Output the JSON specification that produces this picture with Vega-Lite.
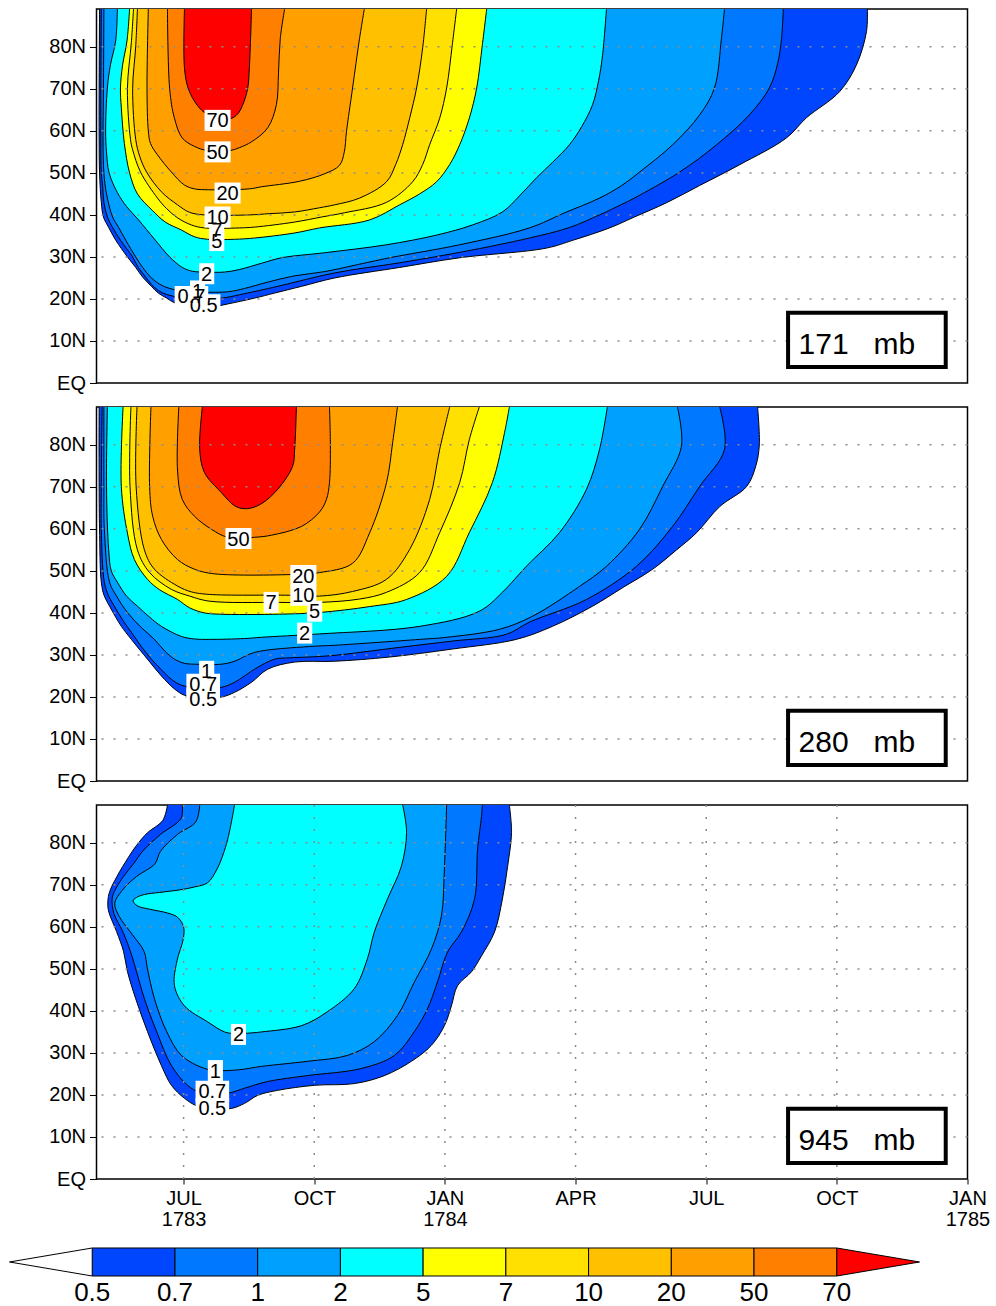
{
"$schema":"https://vega.github.io/schema/vega-lite/v6.json",
"background":"white",
"padding":{"left":6.5,"top":8,"right":5,"bottom":5},
"config":{
"view":{"stroke":"black","strokeWidth":1.5},
"axis":{"title":null,"domain":false,"grid":false,"labelFont":"Liberation Sans","labelFontSize":20,"labelColor":"black","tickColor":"black","tickSize":7,"labelPadding":4,"labelOverlap":false,"labelFlush":false},
"text":{"font":"Liberation Sans"}
},
"datasets":{
"contours":[
{"panel":"171 mb","level":0.5,"t":4.07,"lat":89},{"panel":"171 mb","level":0.5,"t":4.06,"lat":70},{"panel":"171 mb","level":0.5,"t":4.06,"lat":58},{"panel":"171 mb","level":0.5,"t":4.07,"lat":50},{"panel":"171 mb","level":0.5,"t":4.11,"lat":43},{"panel":"171 mb","level":0.5,"t":4.16,"lat":39.5},{"panel":"171 mb","level":0.5,"t":4.28,"lat":37},{"panel":"171 mb","level":0.5,"t":4.44,"lat":34},{"panel":"171 mb","level":0.5,"t":4.57,"lat":32},{"panel":"171 mb","level":0.5,"t":4.71,"lat":30},{"panel":"171 mb","level":0.5,"t":4.9,"lat":27.5},{"panel":"171 mb","level":0.5,"t":5.06,"lat":25.2},{"panel":"171 mb","level":0.5,"t":5.26,"lat":23},{"panel":"171 mb","level":0.5,"t":5.42,"lat":21.4},{"panel":"171 mb","level":0.5,"t":5.61,"lat":20.2},{"panel":"171 mb","level":0.5,"t":5.81,"lat":19},{"panel":"171 mb","level":0.5,"t":6.09,"lat":18.3},{"panel":"171 mb","level":0.5,"t":6.37,"lat":18.1},{"panel":"171 mb","level":0.5,"t":6.66,"lat":18.1},{"panel":"171 mb","level":0.5,"t":7.01,"lat":18.8},{"panel":"171 mb","level":0.5,"t":7.63,"lat":20.2},{"panel":"171 mb","level":0.5,"t":8.09,"lat":21.4},{"panel":"171 mb","level":0.5,"t":8.71,"lat":23},{"panel":"171 mb","level":0.5,"t":9.47,"lat":25},{"panel":"171 mb","level":0.5,"t":10.96,"lat":27.5},{"panel":"171 mb","level":0.5,"t":12.34,"lat":29.8},{"panel":"171 mb","level":0.5,"t":14.33,"lat":32.1},{"panel":"171 mb","level":0.5,"t":14.95,"lat":34},{"panel":"171 mb","level":0.5,"t":15.78,"lat":36.9},{"panel":"171 mb","level":0.5,"t":16.35,"lat":39.5},{"panel":"171 mb","level":0.5,"t":17.09,"lat":42.9},{"panel":"171 mb","level":0.5,"t":17.85,"lat":47},{"panel":"171 mb","level":0.5,"t":18.76,"lat":51.9},{"panel":"171 mb","level":0.5,"t":19.84,"lat":58.3},{"panel":"171 mb","level":0.5,"t":20.3,"lat":63.1},{"panel":"171 mb","level":0.5,"t":21.06,"lat":69.3},{"panel":"171 mb","level":0.5,"t":21.45,"lat":75.7},{"panel":"171 mb","level":0.5,"t":21.68,"lat":83.6},{"panel":"171 mb","level":0.5,"t":21.7,"lat":89},
{"panel":"171 mb","level":0.7,"t":4.11,"lat":89},{"panel":"171 mb","level":0.7,"t":4.1,"lat":70},{"panel":"171 mb","level":0.7,"t":4.1,"lat":60},{"panel":"171 mb","level":0.7,"t":4.11,"lat":50},{"panel":"171 mb","level":0.7,"t":4.14,"lat":47},{"panel":"171 mb","level":0.7,"t":4.17,"lat":43},{"panel":"171 mb","level":0.7,"t":4.25,"lat":39.5},{"panel":"171 mb","level":0.7,"t":4.37,"lat":37},{"panel":"171 mb","level":0.7,"t":4.55,"lat":34},{"panel":"171 mb","level":0.7,"t":4.69,"lat":32},{"panel":"171 mb","level":0.7,"t":4.83,"lat":30},{"panel":"171 mb","level":0.7,"t":4.96,"lat":27.5},{"panel":"171 mb","level":0.7,"t":5.13,"lat":25.2},{"panel":"171 mb","level":0.7,"t":5.26,"lat":23.5},{"panel":"171 mb","level":0.7,"t":5.42,"lat":22},{"panel":"171 mb","level":0.7,"t":5.63,"lat":21},{"panel":"171 mb","level":0.7,"t":5.91,"lat":20.4},{"panel":"171 mb","level":0.7,"t":6.25,"lat":20.2},{"panel":"171 mb","level":0.7,"t":6.87,"lat":20.2},{"panel":"171 mb","level":0.7,"t":7.28,"lat":21},{"panel":"171 mb","level":0.7,"t":8.16,"lat":23},{"panel":"171 mb","level":0.7,"t":9.47,"lat":26.2},{"panel":"171 mb","level":0.7,"t":10.96,"lat":28.6},{"panel":"171 mb","level":0.7,"t":12.4,"lat":31.2},{"panel":"171 mb","level":0.7,"t":13.94,"lat":34.5},{"panel":"171 mb","level":0.7,"t":14.86,"lat":37},{"panel":"171 mb","level":0.7,"t":15.55,"lat":40},{"panel":"171 mb","level":0.7,"t":16.06,"lat":42.5},{"panel":"171 mb","level":0.7,"t":16.35,"lat":44},{"panel":"171 mb","level":0.7,"t":17.39,"lat":50.2},{"panel":"171 mb","level":0.7,"t":18.24,"lat":56.7},{"panel":"171 mb","level":0.7,"t":18.99,"lat":63.8},{"panel":"171 mb","level":0.7,"t":19.45,"lat":70.2},{"panel":"171 mb","level":0.7,"t":19.64,"lat":76},{"panel":"171 mb","level":0.7,"t":19.73,"lat":82},{"panel":"171 mb","level":0.7,"t":19.77,"lat":89},
{"panel":"171 mb","level":1,"t":4.17,"lat":89},{"panel":"171 mb","level":1,"t":4.16,"lat":70},{"panel":"171 mb","level":1,"t":4.15,"lat":57.6},{"panel":"171 mb","level":1,"t":4.17,"lat":50},{"panel":"171 mb","level":1,"t":4.23,"lat":45},{"panel":"171 mb","level":1,"t":4.37,"lat":39.5},{"panel":"171 mb","level":1,"t":4.51,"lat":37},{"panel":"171 mb","level":1,"t":4.67,"lat":34},{"panel":"171 mb","level":1,"t":4.9,"lat":30},{"panel":"171 mb","level":1,"t":5.06,"lat":27.5},{"panel":"171 mb","level":1,"t":5.24,"lat":25.2},{"panel":"171 mb","level":1,"t":5.45,"lat":23.5},{"panel":"171 mb","level":1,"t":5.68,"lat":22.5},{"panel":"171 mb","level":1,"t":5.95,"lat":21.9},{"panel":"171 mb","level":1,"t":6.25,"lat":21.7},{"panel":"171 mb","level":1,"t":7.01,"lat":21.7},{"panel":"171 mb","level":1,"t":7.4,"lat":22.5},{"panel":"171 mb","level":1,"t":7.93,"lat":24},{"panel":"171 mb","level":1,"t":8.55,"lat":25.5},{"panel":"171 mb","level":1,"t":9.24,"lat":26.5},{"panel":"171 mb","level":1,"t":9.92,"lat":28},{"panel":"171 mb","level":1,"t":10.73,"lat":29.8},{"panel":"171 mb","level":1,"t":12.34,"lat":32.9},{"panel":"171 mb","level":1,"t":13.94,"lat":36.9},{"panel":"171 mb","level":1,"t":14.75,"lat":40.5},{"panel":"171 mb","level":1,"t":15.55,"lat":44},{"panel":"171 mb","level":1,"t":16.06,"lat":47},{"panel":"171 mb","level":1,"t":16.47,"lat":50.2},{"panel":"171 mb","level":1,"t":17.23,"lat":56.7},{"panel":"171 mb","level":1,"t":17.85,"lat":63.8},{"panel":"171 mb","level":1,"t":18.19,"lat":70.2},{"panel":"171 mb","level":1,"t":18.35,"lat":82},{"panel":"171 mb","level":1,"t":18.42,"lat":89},
{"panel":"171 mb","level":2,"t":4.48,"lat":89},{"panel":"171 mb","level":2,"t":4.44,"lat":81.4},{"panel":"171 mb","level":2,"t":4.32,"lat":75.7},{"panel":"171 mb","level":2,"t":4.25,"lat":70.2},{"panel":"171 mb","level":2,"t":4.21,"lat":60},{"panel":"171 mb","level":2,"t":4.23,"lat":55},{"panel":"171 mb","level":2,"t":4.29,"lat":50},{"panel":"171 mb","level":2,"t":4.48,"lat":45.3},{"panel":"171 mb","level":2,"t":4.69,"lat":42},{"panel":"171 mb","level":2,"t":4.95,"lat":39},{"panel":"171 mb","level":2,"t":5.15,"lat":36.5},{"panel":"171 mb","level":2,"t":5.35,"lat":34},{"panel":"171 mb","level":2,"t":5.68,"lat":30},{"panel":"171 mb","level":2,"t":5.97,"lat":27.5},{"panel":"171 mb","level":2,"t":6.2,"lat":26.6},{"panel":"171 mb","level":2,"t":6.48,"lat":26.4},{"panel":"171 mb","level":2,"t":6.94,"lat":26.4},{"panel":"171 mb","level":2,"t":7.28,"lat":27},{"panel":"171 mb","level":2,"t":7.79,"lat":28.5},{"panel":"171 mb","level":2,"t":8.25,"lat":29.8},{"panel":"171 mb","level":2,"t":9.24,"lat":31},{"panel":"171 mb","level":2,"t":10.66,"lat":32.9},{"panel":"171 mb","level":2,"t":11.81,"lat":35.2},{"panel":"171 mb","level":2,"t":12.63,"lat":37.6},{"panel":"171 mb","level":2,"t":13.32,"lat":40.7},{"panel":"171 mb","level":2,"t":13.71,"lat":44.5},{"panel":"171 mb","level":2,"t":14.1,"lat":48.8},{"panel":"171 mb","level":2,"t":14.47,"lat":52.5},{"panel":"171 mb","level":2,"t":14.86,"lat":56.7},{"panel":"171 mb","level":2,"t":15.14,"lat":61},{"panel":"171 mb","level":2,"t":15.39,"lat":66.2},{"panel":"171 mb","level":2,"t":15.53,"lat":72},{"panel":"171 mb","level":2,"t":15.62,"lat":78},{"panel":"171 mb","level":2,"t":15.71,"lat":89},
{"panel":"171 mb","level":5,"t":4.76,"lat":89},{"panel":"171 mb","level":5,"t":4.7,"lat":81.4},{"panel":"171 mb","level":5,"t":4.6,"lat":75.7},{"panel":"171 mb","level":5,"t":4.55,"lat":70.2},{"panel":"171 mb","level":5,"t":4.57,"lat":65.5},{"panel":"171 mb","level":5,"t":4.64,"lat":57},{"panel":"171 mb","level":5,"t":4.76,"lat":50},{"panel":"171 mb","level":5,"t":4.94,"lat":45},{"panel":"171 mb","level":5,"t":5.29,"lat":41},{"panel":"171 mb","level":5,"t":5.58,"lat":38.3},{"panel":"171 mb","level":5,"t":5.95,"lat":36.4},{"panel":"171 mb","level":5,"t":6.25,"lat":34.8},{"panel":"171 mb","level":5,"t":6.55,"lat":34.2},{"panel":"171 mb","level":5,"t":7.17,"lat":34.2},{"panel":"171 mb","level":5,"t":7.63,"lat":34.5},{"panel":"171 mb","level":5,"t":8.55,"lat":35.7},{"panel":"171 mb","level":5,"t":9.12,"lat":36.9},{"panel":"171 mb","level":5,"t":10.27,"lat":38.8},{"panel":"171 mb","level":5,"t":10.96,"lat":42.4},{"panel":"171 mb","level":5,"t":11.42,"lat":45},{"panel":"171 mb","level":5,"t":11.81,"lat":47.9},{"panel":"171 mb","level":5,"t":12.11,"lat":52},{"panel":"171 mb","level":5,"t":12.34,"lat":56.7},{"panel":"171 mb","level":5,"t":12.56,"lat":63},{"panel":"171 mb","level":5,"t":12.73,"lat":70.2},{"panel":"171 mb","level":5,"t":12.86,"lat":80.5},{"panel":"171 mb","level":5,"t":12.96,"lat":89},
{"panel":"171 mb","level":7,"t":4.85,"lat":89},{"panel":"171 mb","level":7,"t":4.8,"lat":81},{"panel":"171 mb","level":7,"t":4.71,"lat":70},{"panel":"171 mb","level":7,"t":4.78,"lat":58},{"panel":"171 mb","level":7,"t":4.83,"lat":55.5},{"panel":"171 mb","level":7,"t":5.01,"lat":50.2},{"panel":"171 mb","level":7,"t":5.4,"lat":44},{"panel":"171 mb","level":7,"t":5.61,"lat":41.5},{"panel":"171 mb","level":7,"t":5.86,"lat":39.3},{"panel":"171 mb","level":7,"t":6.18,"lat":37.6},{"panel":"171 mb","level":7,"t":6.48,"lat":36.9},{"panel":"171 mb","level":7,"t":7.28,"lat":36.9},{"panel":"171 mb","level":7,"t":7.63,"lat":37.1},{"panel":"171 mb","level":7,"t":8.55,"lat":38.3},{"panel":"171 mb","level":7,"t":9.17,"lat":39.5},{"panel":"171 mb","level":7,"t":9.69,"lat":40.5},{"panel":"171 mb","level":7,"t":10.66,"lat":43},{"panel":"171 mb","level":7,"t":11.26,"lat":47.9},{"panel":"171 mb","level":7,"t":11.49,"lat":52},{"panel":"171 mb","level":7,"t":11.65,"lat":56.7},{"panel":"171 mb","level":7,"t":11.88,"lat":63},{"panel":"171 mb","level":7,"t":12.04,"lat":70.2},{"panel":"171 mb","level":7,"t":12.17,"lat":80.5},{"panel":"171 mb","level":7,"t":12.27,"lat":89},
{"panel":"171 mb","level":10,"t":4.94,"lat":89},{"panel":"171 mb","level":10,"t":4.9,"lat":80},{"panel":"171 mb","level":10,"t":4.83,"lat":70},{"panel":"171 mb","level":10,"t":4.9,"lat":58},{"panel":"171 mb","level":10,"t":4.99,"lat":54},{"panel":"171 mb","level":10,"t":5.15,"lat":50.2},{"panel":"171 mb","level":10,"t":5.49,"lat":45.5},{"panel":"171 mb","level":10,"t":5.86,"lat":42.4},{"panel":"171 mb","level":10,"t":6.14,"lat":40.6},{"panel":"171 mb","level":10,"t":6.48,"lat":40},{"panel":"171 mb","level":10,"t":7.51,"lat":40},{"panel":"171 mb","level":10,"t":7.97,"lat":40.3},{"panel":"171 mb","level":10,"t":8.55,"lat":40.7},{"panel":"171 mb","level":10,"t":9.12,"lat":41.7},{"panel":"171 mb","level":10,"t":9.47,"lat":42.4},{"panel":"171 mb","level":10,"t":10.04,"lat":44},{"panel":"171 mb","level":10,"t":10.66,"lat":47.9},{"panel":"171 mb","level":10,"t":10.87,"lat":52},{"panel":"171 mb","level":10,"t":11.03,"lat":56.7},{"panel":"171 mb","level":10,"t":11.19,"lat":63},{"panel":"171 mb","level":10,"t":11.35,"lat":70.2},{"panel":"171 mb","level":10,"t":11.49,"lat":79.8},{"panel":"171 mb","level":10,"t":11.58,"lat":89},
{"panel":"171 mb","level":20,"t":5.19,"lat":89},{"panel":"171 mb","level":20,"t":5.16,"lat":70},{"panel":"171 mb","level":20,"t":5.19,"lat":60},{"panel":"171 mb","level":20,"t":5.24,"lat":57},{"panel":"171 mb","level":20,"t":5.4,"lat":54.3},{"panel":"171 mb","level":20,"t":5.72,"lat":50.2},{"panel":"171 mb","level":20,"t":6.02,"lat":47.1},{"panel":"171 mb","level":20,"t":6.25,"lat":46.2},{"panel":"171 mb","level":20,"t":6.48,"lat":46},{"panel":"171 mb","level":20,"t":7.51,"lat":46.2},{"panel":"171 mb","level":20,"t":7.79,"lat":46.7},{"panel":"171 mb","level":20,"t":8.66,"lat":48},{"panel":"171 mb","level":20,"t":9.24,"lat":49.8},{"panel":"171 mb","level":20,"t":9.58,"lat":51.8},{"panel":"171 mb","level":20,"t":9.69,"lat":55},{"panel":"171 mb","level":20,"t":9.74,"lat":59.8},{"panel":"171 mb","level":20,"t":9.88,"lat":70.2},{"panel":"171 mb","level":20,"t":10.04,"lat":82},{"panel":"171 mb","level":20,"t":10.15,"lat":89},
{"panel":"171 mb","level":50,"t":5.63,"lat":89},{"panel":"171 mb","level":50,"t":5.68,"lat":70},{"panel":"171 mb","level":50,"t":5.79,"lat":63},{"panel":"171 mb","level":50,"t":5.97,"lat":58.3},{"panel":"171 mb","level":50,"t":6.25,"lat":56.3},{"panel":"171 mb","level":50,"t":6.55,"lat":55.3},{"panel":"171 mb","level":50,"t":7.05,"lat":55.3},{"panel":"171 mb","level":50,"t":7.28,"lat":56},{"panel":"171 mb","level":50,"t":7.56,"lat":57.4},{"panel":"171 mb","level":50,"t":7.93,"lat":60.7},{"panel":"171 mb","level":50,"t":8.13,"lat":66.2},{"panel":"171 mb","level":50,"t":8.18,"lat":74},{"panel":"171 mb","level":50,"t":8.22,"lat":82},{"panel":"171 mb","level":50,"t":8.32,"lat":89},
{"panel":"171 mb","level":70,"t":6.02,"lat":89},{"panel":"171 mb","level":70,"t":6.02,"lat":75},{"panel":"171 mb","level":70,"t":6.11,"lat":70},{"panel":"171 mb","level":70,"t":6.32,"lat":66},{"panel":"171 mb","level":70,"t":6.53,"lat":64},{"panel":"171 mb","level":70,"t":6.78,"lat":63},{"panel":"171 mb","level":70,"t":7.1,"lat":63},{"panel":"171 mb","level":70,"t":7.24,"lat":64},{"panel":"171 mb","level":70,"t":7.35,"lat":66},{"panel":"171 mb","level":70,"t":7.47,"lat":70},{"panel":"171 mb","level":70,"t":7.51,"lat":75},{"panel":"171 mb","level":70,"t":7.56,"lat":89},
{"panel":"280 mb","level":0.5,"t":4.06,"lat":89},{"panel":"280 mb","level":0.5,"t":4.06,"lat":70},{"panel":"280 mb","level":0.5,"t":4.07,"lat":60},{"panel":"280 mb","level":0.5,"t":4.11,"lat":47.3},{"panel":"280 mb","level":0.5,"t":4.18,"lat":44},{"panel":"280 mb","level":0.5,"t":4.3,"lat":41.6},{"panel":"280 mb","level":0.5,"t":4.44,"lat":39},{"panel":"280 mb","level":0.5,"t":4.57,"lat":36.8},{"panel":"280 mb","level":0.5,"t":4.8,"lat":33.7},{"panel":"280 mb","level":0.5,"t":5.17,"lat":29},{"panel":"280 mb","level":0.5,"t":5.49,"lat":25},{"panel":"280 mb","level":0.5,"t":5.79,"lat":21.9},{"panel":"280 mb","level":0.5,"t":6.02,"lat":20.4},{"panel":"280 mb","level":0.5,"t":6.25,"lat":20},{"panel":"280 mb","level":0.5,"t":6.87,"lat":20},{"panel":"280 mb","level":0.5,"t":7.17,"lat":21.1},{"panel":"280 mb","level":0.5,"t":7.56,"lat":23.5},{"panel":"280 mb","level":0.5,"t":7.93,"lat":26.6},{"panel":"280 mb","level":0.5,"t":8.55,"lat":28.3},{"panel":"280 mb","level":0.5,"t":9.47,"lat":28.5},{"panel":"280 mb","level":0.5,"t":10.73,"lat":29.5},{"panel":"280 mb","level":0.5,"t":12.17,"lat":31.4},{"panel":"280 mb","level":0.5,"t":13.64,"lat":33.7},{"panel":"280 mb","level":0.5,"t":14.47,"lat":36.8},{"panel":"280 mb","level":0.5,"t":15.39,"lat":41.6},{"panel":"280 mb","level":0.5,"t":16.08,"lat":46},{"panel":"280 mb","level":0.5,"t":16.77,"lat":50.4},{"panel":"280 mb","level":0.5,"t":17.32,"lat":55},{"panel":"280 mb","level":0.5,"t":17.78,"lat":59.1},{"panel":"280 mb","level":0.5,"t":18.31,"lat":65.3},{"panel":"280 mb","level":0.5,"t":18.93,"lat":70.1},{"panel":"280 mb","level":0.5,"t":19.14,"lat":75},{"panel":"280 mb","level":0.5,"t":19.22,"lat":80},{"panel":"280 mb","level":0.5,"t":19.18,"lat":89},
{"panel":"280 mb","level":0.7,"t":4.13,"lat":89},{"panel":"280 mb","level":0.7,"t":4.11,"lat":70},{"panel":"280 mb","level":0.7,"t":4.11,"lat":60},{"panel":"280 mb","level":0.7,"t":4.18,"lat":47.3},{"panel":"280 mb","level":0.7,"t":4.28,"lat":44},{"panel":"280 mb","level":0.7,"t":4.41,"lat":41.6},{"panel":"280 mb","level":0.7,"t":4.62,"lat":38},{"panel":"280 mb","level":0.7,"t":4.8,"lat":35.4},{"panel":"280 mb","level":0.7,"t":5.03,"lat":32},{"panel":"280 mb","level":0.7,"t":5.26,"lat":29},{"panel":"280 mb","level":0.7,"t":5.49,"lat":26.5},{"panel":"280 mb","level":0.7,"t":5.72,"lat":24.2},{"panel":"280 mb","level":0.7,"t":5.95,"lat":22.8},{"panel":"280 mb","level":0.7,"t":6.25,"lat":22.3},{"panel":"280 mb","level":0.7,"t":6.87,"lat":22.3},{"panel":"280 mb","level":0.7,"t":7.17,"lat":23.5},{"panel":"280 mb","level":0.7,"t":7.4,"lat":25},{"panel":"280 mb","level":0.7,"t":7.63,"lat":26.6},{"panel":"280 mb","level":0.7,"t":8.09,"lat":29},{"panel":"280 mb","level":0.7,"t":8.43,"lat":29.3},{"panel":"280 mb","level":0.7,"t":9.35,"lat":29.8},{"panel":"280 mb","level":0.7,"t":10.96,"lat":31.8},{"panel":"280 mb","level":0.7,"t":12.17,"lat":33.3},{"panel":"280 mb","level":0.7,"t":13.41,"lat":34.9},{"panel":"280 mb","level":0.7,"t":13.94,"lat":37.8},{"panel":"280 mb","level":0.7,"t":15.25,"lat":43.2},{"panel":"280 mb","level":0.7,"t":16.4,"lat":51.1},{"panel":"280 mb","level":0.7,"t":17.23,"lat":60.6},{"panel":"280 mb","level":0.7,"t":17.85,"lat":70.1},{"panel":"280 mb","level":0.7,"t":18.42,"lat":78.9},{"panel":"280 mb","level":0.7,"t":18.31,"lat":89},
{"panel":"280 mb","level":1,"t":4.17,"lat":89},{"panel":"280 mb","level":1,"t":4.17,"lat":70},{"panel":"280 mb","level":1,"t":4.18,"lat":60},{"panel":"280 mb","level":1,"t":4.3,"lat":47.3},{"panel":"280 mb","level":1,"t":4.46,"lat":44},{"panel":"280 mb","level":1,"t":4.71,"lat":40.1},{"panel":"280 mb","level":1,"t":5.03,"lat":36.5},{"panel":"280 mb","level":1,"t":5.33,"lat":33.7},{"panel":"280 mb","level":1,"t":5.56,"lat":31},{"panel":"280 mb","level":1,"t":5.79,"lat":29},{"panel":"280 mb","level":1,"t":6.02,"lat":28},{"panel":"280 mb","level":1,"t":6.25,"lat":27.8},{"panel":"280 mb","level":1,"t":6.87,"lat":27.8},{"panel":"280 mb","level":1,"t":7.17,"lat":28.5},{"panel":"280 mb","level":1,"t":7.63,"lat":30.6},{"panel":"280 mb","level":1,"t":8.89,"lat":32},{"panel":"280 mb","level":1,"t":9.47,"lat":32.3},{"panel":"280 mb","level":1,"t":11.42,"lat":33.7},{"panel":"280 mb","level":1,"t":12.04,"lat":34.2},{"panel":"280 mb","level":1,"t":13.25,"lat":36.1},{"panel":"280 mb","level":1,"t":14.01,"lat":39.2},{"panel":"280 mb","level":1,"t":15.09,"lat":46.3},{"panel":"280 mb","level":1,"t":15.71,"lat":51.1},{"panel":"280 mb","level":1,"t":16.47,"lat":59.9},{"panel":"280 mb","level":1,"t":17,"lat":70.1},{"panel":"280 mb","level":1,"t":17.43,"lat":79.6},{"panel":"280 mb","level":1,"t":17.34,"lat":89},
{"panel":"280 mb","level":2,"t":4.25,"lat":89},{"panel":"280 mb","level":2,"t":4.23,"lat":70},{"panel":"280 mb","level":2,"t":4.28,"lat":55},{"panel":"280 mb","level":2,"t":4.34,"lat":50},{"panel":"280 mb","level":2,"t":4.48,"lat":47.3},{"panel":"280 mb","level":2,"t":4.69,"lat":44},{"panel":"280 mb","level":2,"t":4.94,"lat":41.6},{"panel":"280 mb","level":2,"t":5.22,"lat":39},{"panel":"280 mb","level":2,"t":5.49,"lat":36.8},{"panel":"280 mb","level":2,"t":5.95,"lat":34.4},{"panel":"280 mb","level":2,"t":6.25,"lat":33.8},{"panel":"280 mb","level":2,"t":6.59,"lat":33.7},{"panel":"280 mb","level":2,"t":7.4,"lat":33.9},{"panel":"280 mb","level":2,"t":7.79,"lat":34.2},{"panel":"280 mb","level":2,"t":9.12,"lat":35},{"panel":"280 mb","level":2,"t":11.42,"lat":36.8},{"panel":"280 mb","level":2,"t":12.79,"lat":40.4},{"panel":"280 mb","level":2,"t":13.32,"lat":44.9},{"panel":"280 mb","level":2,"t":13.87,"lat":51.1},{"panel":"280 mb","level":2,"t":14.63,"lat":59.1},{"panel":"280 mb","level":2,"t":15.25,"lat":69.4},{"panel":"280 mb","level":2,"t":15.55,"lat":78.9},{"panel":"280 mb","level":2,"t":15.73,"lat":89},
{"panel":"280 mb","level":5,"t":4.61,"lat":89},{"panel":"280 mb","level":5,"t":4.57,"lat":70},{"panel":"280 mb","level":5,"t":4.71,"lat":59},{"panel":"280 mb","level":5,"t":4.87,"lat":52.7},{"panel":"280 mb","level":5,"t":5.17,"lat":48},{"panel":"280 mb","level":5,"t":5.45,"lat":45.5},{"panel":"280 mb","level":5,"t":5.86,"lat":43.2},{"panel":"280 mb","level":5,"t":6.14,"lat":41.2},{"panel":"280 mb","level":5,"t":6.48,"lat":40},{"panel":"280 mb","level":5,"t":6.82,"lat":39.7},{"panel":"280 mb","level":5,"t":8.2,"lat":39.7},{"panel":"280 mb","level":5,"t":9.12,"lat":40.1},{"panel":"280 mb","level":5,"t":10.27,"lat":41.5},{"panel":"280 mb","level":5,"t":11.12,"lat":43.2},{"panel":"280 mb","level":5,"t":12.04,"lat":48.7},{"panel":"280 mb","level":5,"t":12.56,"lat":59.1},{"panel":"280 mb","level":5,"t":13.09,"lat":71},{"panel":"280 mb","level":5,"t":13.37,"lat":82.9},{"panel":"280 mb","level":5,"t":13.48,"lat":89},
{"panel":"280 mb","level":7,"t":4.79,"lat":89},{"panel":"280 mb","level":7,"t":4.77,"lat":70},{"panel":"280 mb","level":7,"t":4.94,"lat":55},{"panel":"280 mb","level":7,"t":5.22,"lat":49.6},{"panel":"280 mb","level":7,"t":5.72,"lat":45.6},{"panel":"280 mb","level":7,"t":6.14,"lat":44},{"panel":"280 mb","level":7,"t":6.59,"lat":42.8},{"panel":"280 mb","level":7,"t":8.2,"lat":42.5},{"panel":"280 mb","level":7,"t":9.12,"lat":42.5},{"panel":"280 mb","level":7,"t":10.04,"lat":43.3},{"panel":"280 mb","level":7,"t":10.66,"lat":44.9},{"panel":"280 mb","level":7,"t":11.42,"lat":49.6},{"panel":"280 mb","level":7,"t":11.88,"lat":59.1},{"panel":"280 mb","level":7,"t":12.34,"lat":71},{"panel":"280 mb","level":7,"t":12.56,"lat":81.2},{"panel":"280 mb","level":7,"t":12.79,"lat":89},
{"panel":"280 mb","level":10,"t":4.93,"lat":89},{"panel":"280 mb","level":10,"t":4.91,"lat":70},{"panel":"280 mb","level":10,"t":5.1,"lat":55},{"panel":"280 mb","level":10,"t":5.33,"lat":50.4},{"panel":"280 mb","level":10,"t":5.86,"lat":46.4},{"panel":"280 mb","level":10,"t":6.18,"lat":45},{"panel":"280 mb","level":10,"t":6.59,"lat":44.4},{"panel":"280 mb","level":10,"t":8.43,"lat":44.2},{"panel":"280 mb","level":10,"t":9.12,"lat":44},{"panel":"280 mb","level":10,"t":9.88,"lat":45.1},{"panel":"280 mb","level":10,"t":10.66,"lat":48},{"panel":"280 mb","level":10,"t":11.19,"lat":55.1},{"panel":"280 mb","level":10,"t":11.65,"lat":67},{"panel":"280 mb","level":10,"t":11.88,"lat":78.9},{"panel":"280 mb","level":10,"t":12.11,"lat":89},
{"panel":"280 mb","level":20,"t":5.25,"lat":89},{"panel":"280 mb","level":20,"t":5.22,"lat":70},{"panel":"280 mb","level":20,"t":5.29,"lat":63},{"panel":"280 mb","level":20,"t":5.49,"lat":57.5},{"panel":"280 mb","level":20,"t":5.86,"lat":52.7},{"panel":"280 mb","level":20,"t":6.25,"lat":50.4},{"panel":"280 mb","level":20,"t":6.71,"lat":49.3},{"panel":"280 mb","level":20,"t":8.66,"lat":49.2},{"panel":"280 mb","level":20,"t":9.12,"lat":49.6},{"panel":"280 mb","level":20,"t":9.88,"lat":51.8},{"panel":"280 mb","level":20,"t":10.27,"lat":59},{"panel":"280 mb","level":20,"t":10.66,"lat":71},{"panel":"280 mb","level":20,"t":10.8,"lat":80.5},{"panel":"280 mb","level":20,"t":10.91,"lat":89},
{"panel":"280 mb","level":50,"t":5.89,"lat":89},{"panel":"280 mb","level":50,"t":5.86,"lat":74},{"panel":"280 mb","level":50,"t":5.97,"lat":67},{"panel":"280 mb","level":50,"t":6.25,"lat":63},{"panel":"280 mb","level":50,"t":6.64,"lat":59.9},{"panel":"280 mb","level":50,"t":7.01,"lat":58},{"panel":"280 mb","level":50,"t":7.63,"lat":58},{"panel":"280 mb","level":50,"t":8.02,"lat":58.5},{"panel":"280 mb","level":50,"t":8.71,"lat":60.6},{"panel":"280 mb","level":50,"t":9.12,"lat":64},{"panel":"280 mb","level":50,"t":9.28,"lat":67},{"panel":"280 mb","level":50,"t":9.35,"lat":71},{"panel":"280 mb","level":50,"t":9.37,"lat":80},{"panel":"280 mb","level":50,"t":9.35,"lat":89},
{"panel":"280 mb","level":70,"t":6.43,"lat":89},{"panel":"280 mb","level":70,"t":6.37,"lat":78.9},{"panel":"280 mb","level":70,"t":6.48,"lat":73.4},{"panel":"280 mb","level":70,"t":6.87,"lat":68.6},{"panel":"280 mb","level":70,"t":7.17,"lat":65.5},{"panel":"280 mb","level":70,"t":7.4,"lat":64.8},{"panel":"280 mb","level":70,"t":7.7,"lat":65.5},{"panel":"280 mb","level":70,"t":8.09,"lat":68.6},{"panel":"280 mb","level":70,"t":8.5,"lat":74.8},{"panel":"280 mb","level":70,"t":8.55,"lat":78.9},{"panel":"280 mb","level":70,"t":8.59,"lat":89},
{"panel":"945 mb","level":0.5,"t":5.63,"lat":89},{"panel":"945 mb","level":0.5,"t":5.52,"lat":85.3},{"panel":"945 mb","level":0.5,"t":5.17,"lat":82.4},{"panel":"945 mb","level":0.5,"t":4.92,"lat":79.4},{"panel":"945 mb","level":0.5,"t":4.73,"lat":76.5},{"panel":"945 mb","level":0.5,"t":4.47,"lat":72},{"panel":"945 mb","level":0.5,"t":4.29,"lat":68},{"panel":"945 mb","level":0.5,"t":4.26,"lat":65},{"panel":"945 mb","level":0.5,"t":4.29,"lat":63.3},{"panel":"945 mb","level":0.5,"t":4.46,"lat":58.9},{"panel":"945 mb","level":0.5,"t":4.62,"lat":54.2},{"panel":"945 mb","level":0.5,"t":4.71,"lat":49.4},{"panel":"945 mb","level":0.5,"t":4.9,"lat":42.9},{"panel":"945 mb","level":0.5,"t":5.17,"lat":35.1},{"panel":"945 mb","level":0.5,"t":5.49,"lat":27},{"panel":"945 mb","level":0.5,"t":5.72,"lat":22.3},{"panel":"945 mb","level":0.5,"t":6.02,"lat":19.2},{"panel":"945 mb","level":0.5,"t":6.32,"lat":17.3},{"panel":"945 mb","level":0.5,"t":6.59,"lat":16.8},{"panel":"945 mb","level":0.5,"t":7.1,"lat":16.8},{"panel":"945 mb","level":0.5,"t":7.4,"lat":18},{"panel":"945 mb","level":0.5,"t":7.7,"lat":19.9},{"panel":"945 mb","level":0.5,"t":8.16,"lat":21.1},{"panel":"945 mb","level":0.5,"t":9.01,"lat":22.3},{"panel":"945 mb","level":0.5,"t":9.92,"lat":22.7},{"panel":"945 mb","level":0.5,"t":10.61,"lat":24.6},{"panel":"945 mb","level":0.5,"t":11.23,"lat":28},{"panel":"945 mb","level":0.5,"t":11.69,"lat":31.8},{"panel":"945 mb","level":0.5,"t":11.99,"lat":36.5},{"panel":"945 mb","level":0.5,"t":12.15,"lat":41.2},{"panel":"945 mb","level":0.5,"t":12.29,"lat":46},{"panel":"945 mb","level":0.5,"t":12.61,"lat":49.3},{"panel":"945 mb","level":0.5,"t":12.84,"lat":53.1},{"panel":"945 mb","level":0.5,"t":13.14,"lat":58.8},{"panel":"945 mb","level":0.5,"t":13.32,"lat":66.6},{"panel":"945 mb","level":0.5,"t":13.44,"lat":74.4},{"panel":"945 mb","level":0.5,"t":13.53,"lat":82.5},{"panel":"945 mb","level":0.5,"t":13.48,"lat":89},
{"panel":"945 mb","level":0.7,"t":5.97,"lat":89},{"panel":"945 mb","level":0.7,"t":5.94,"lat":85.8},{"panel":"945 mb","level":0.7,"t":5.47,"lat":82},{"panel":"945 mb","level":0.7,"t":5.06,"lat":78},{"panel":"945 mb","level":0.7,"t":4.85,"lat":75},{"panel":"945 mb","level":0.7,"t":4.62,"lat":72},{"panel":"945 mb","level":0.7,"t":4.44,"lat":69},{"panel":"945 mb","level":0.7,"t":4.36,"lat":66.8},{"panel":"945 mb","level":0.7,"t":4.4,"lat":63.2},{"panel":"945 mb","level":0.7,"t":4.62,"lat":58.5},{"panel":"945 mb","level":0.7,"t":4.8,"lat":53.5},{"panel":"945 mb","level":0.7,"t":4.92,"lat":49.3},{"panel":"945 mb","level":0.7,"t":5.1,"lat":42.9},{"panel":"945 mb","level":0.7,"t":5.38,"lat":35.1},{"panel":"945 mb","level":0.7,"t":5.72,"lat":27},{"panel":"945 mb","level":0.7,"t":6.09,"lat":22.3},{"panel":"945 mb","level":0.7,"t":6.37,"lat":20.6},{"panel":"945 mb","level":0.7,"t":6.59,"lat":20.4},{"panel":"945 mb","level":0.7,"t":7.01,"lat":20.4},{"panel":"945 mb","level":0.7,"t":7.4,"lat":21.6},{"panel":"945 mb","level":0.7,"t":7.93,"lat":23.2},{"panel":"945 mb","level":0.7,"t":8.84,"lat":24.6},{"panel":"945 mb","level":0.7,"t":10.08,"lat":26.3},{"panel":"945 mb","level":0.7,"t":10.84,"lat":29.4},{"panel":"945 mb","level":0.7,"t":11.3,"lat":35.1},{"panel":"945 mb","level":0.7,"t":11.6,"lat":40.5},{"panel":"945 mb","level":0.7,"t":11.83,"lat":46.9},{"panel":"945 mb","level":0.7,"t":12.06,"lat":54},{"panel":"945 mb","level":0.7,"t":12.38,"lat":58.8},{"panel":"945 mb","level":0.7,"t":12.68,"lat":66.6},{"panel":"945 mb","level":0.7,"t":12.75,"lat":78.4},{"panel":"945 mb","level":0.7,"t":12.84,"lat":86.3},{"panel":"945 mb","level":0.7,"t":12.86,"lat":89},
{"panel":"945 mb","level":1,"t":6.37,"lat":89},{"panel":"945 mb","level":1,"t":6.28,"lat":85},{"panel":"945 mb","level":1,"t":5.86,"lat":82},{"panel":"945 mb","level":1,"t":5.47,"lat":78},{"panel":"945 mb","level":1,"t":5.34,"lat":75},{"panel":"945 mb","level":1,"t":4.92,"lat":72},{"panel":"945 mb","level":1,"t":4.6,"lat":68.8},{"panel":"945 mb","level":1,"t":4.42,"lat":65.6},{"panel":"945 mb","level":1,"t":4.52,"lat":62.5},{"panel":"945 mb","level":1,"t":4.82,"lat":58.2},{"panel":"945 mb","level":1,"t":5.09,"lat":54.2},{"panel":"945 mb","level":1,"t":5.17,"lat":50},{"panel":"945 mb","level":1,"t":5.33,"lat":42.9},{"panel":"945 mb","level":1,"t":5.61,"lat":35.1},{"panel":"945 mb","level":1,"t":5.95,"lat":29.4},{"panel":"945 mb","level":1,"t":6.48,"lat":26.3},{"panel":"945 mb","level":1,"t":6.82,"lat":25.8},{"panel":"945 mb","level":1,"t":7.28,"lat":26},{"panel":"945 mb","level":1,"t":7.79,"lat":26.8},{"panel":"945 mb","level":1,"t":8.84,"lat":28},{"panel":"945 mb","level":1,"t":9.76,"lat":29.4},{"panel":"945 mb","level":1,"t":10.38,"lat":32.7},{"panel":"945 mb","level":1,"t":10.91,"lat":38.9},{"panel":"945 mb","level":1,"t":11.3,"lat":46.9},{"panel":"945 mb","level":1,"t":11.69,"lat":54.7},{"panel":"945 mb","level":1,"t":11.92,"lat":62.6},{"panel":"945 mb","level":1,"t":11.99,"lat":74.4},{"panel":"945 mb","level":1,"t":12.04,"lat":89},
{"panel":"945 mb","level":2,"t":7.17,"lat":89},{"panel":"945 mb","level":2,"t":7.05,"lat":82.5},{"panel":"945 mb","level":2,"t":6.96,"lat":78.9},{"panel":"945 mb","level":2,"t":6.78,"lat":74},{"panel":"945 mb","level":2,"t":6.55,"lat":70.5},{"panel":"945 mb","level":2,"t":6.25,"lat":69.5},{"panel":"945 mb","level":2,"t":5.91,"lat":68.8},{"panel":"945 mb","level":2,"t":5.45,"lat":68.2},{"panel":"945 mb","level":2,"t":5.1,"lat":67.7},{"panel":"945 mb","level":2,"t":4.92,"lat":67},{"panel":"945 mb","level":2,"t":4.84,"lat":66.2},{"panel":"945 mb","level":2,"t":4.94,"lat":65},{"panel":"945 mb","level":2,"t":5.22,"lat":64.2},{"panel":"945 mb","level":2,"t":5.63,"lat":63.3},{"panel":"945 mb","level":2,"t":5.86,"lat":62.3},{"panel":"945 mb","level":2,"t":6,"lat":60},{"panel":"945 mb","level":2,"t":5.99,"lat":57},{"panel":"945 mb","level":2,"t":5.85,"lat":52},{"panel":"945 mb","level":2,"t":5.79,"lat":46},{"panel":"945 mb","level":2,"t":6.02,"lat":41.2},{"panel":"945 mb","level":2,"t":6.55,"lat":37.4},{"panel":"945 mb","level":2,"t":6.94,"lat":35},{"panel":"945 mb","level":2,"t":7.17,"lat":34.6},{"panel":"945 mb","level":2,"t":7.47,"lat":34.7},{"panel":"945 mb","level":2,"t":7.79,"lat":35},{"panel":"945 mb","level":2,"t":8.71,"lat":36.5},{"panel":"945 mb","level":2,"t":9.3,"lat":39.8},{"panel":"945 mb","level":2,"t":9.92,"lat":45.3},{"panel":"945 mb","level":2,"t":10.22,"lat":52.4},{"panel":"945 mb","level":2,"t":10.38,"lat":58.8},{"panel":"945 mb","level":2,"t":10.68,"lat":66.6},{"panel":"945 mb","level":2,"t":11,"lat":74.4},{"panel":"945 mb","level":2,"t":11.12,"lat":82.5},{"panel":"945 mb","level":2,"t":11.03,"lat":89}
],
"labels":[
{"panel":"171 mb","label":"70","t":6.78,"lat":62.5},{"panel":"171 mb","label":"50","t":6.78,"lat":55},{"panel":"171 mb","label":"20","t":7.01,"lat":45.2},{"panel":"171 mb","label":"10","t":6.78,"lat":39.5},{"panel":"171 mb","label":"7","t":6.76,"lat":36.4},{"panel":"171 mb","label":"5","t":6.76,"lat":33.9},{"panel":"171 mb","label":"2","t":6.53,"lat":26},{"panel":"171 mb","label":"0.7","t":6.18,"lat":20.6},{"panel":"171 mb","label":"1","t":6.32,"lat":21.9},{"panel":"171 mb","label":"0.5","t":6.46,"lat":18.6},
{"panel":"280 mb","label":"50","t":7.26,"lat":57.7},{"panel":"280 mb","label":"20","t":8.75,"lat":48.9},{"panel":"280 mb","label":"10","t":8.75,"lat":44.2},{"panel":"280 mb","label":"7","t":8.01,"lat":42.5},{"panel":"280 mb","label":"5","t":9.01,"lat":40.4},{"panel":"280 mb","label":"2","t":8.78,"lat":35.2},{"panel":"280 mb","label":"0.5","t":6.45,"lat":19.5},{"panel":"280 mb","label":"0.7","t":6.45,"lat":23},{"panel":"280 mb","label":"1","t":6.53,"lat":26.1},
{"panel":"945 mb","label":"2","t":7.26,"lat":34.4},{"panel":"945 mb","label":"1","t":6.73,"lat":25.8},{"panel":"945 mb","label":"0.5","t":6.66,"lat":16.8},{"panel":"945 mb","label":"0.7","t":6.66,"lat":20.9}
],
"panels":[{"panel":"171 mb","text":"171\u00a0\u00a0\u00a0mb"},{"panel":"280 mb","text":"280\u00a0\u00a0\u00a0mb"},{"panel":"945 mb","text":"945\u00a0\u00a0\u00a0mb"}],
"latgrid":[{"lat":10},{"lat":20},{"lat":30},{"lat":40},{"lat":50},{"lat":60},{"lat":70},{"lat":80}],
"tgrid":[{"t":6},{"t":9},{"t":12},{"t":15},{"t":18},{"t":21}],
"colorbar":[{"bin":"below 0.5","kind":"lt"},{"bin":"0.5-0.7","kind":"bin","lo":"0.5"},{"bin":"0.7-1","kind":"bin","lo":"0.7"},{"bin":"1-2","kind":"bin","lo":"1"},{"bin":"2-5","kind":"bin","lo":"2"},{"bin":"5-7","kind":"bin","lo":"5"},{"bin":"7-10","kind":"bin","lo":"7"},{"bin":"10-20","kind":"bin","lo":"10"},{"bin":"20-50","kind":"bin","lo":"20"},{"bin":"50-70","kind":"bin","lo":"50"},{"bin":"above 70","kind":"gt","lo":"70"}]
},
"spacing":24,
"bounds":"flush",
"vconcat":[
{"width":871,"height":374,"layer":[
{"data":{"name":"contours"},"transform":[{"filter":"datum.panel == '171 mb'"}],
"mark":{"type":"line","clip":true,"stroke":"black","strokeWidth":1,"interpolate":"catmull-rom","strokeJoin":"round"},
"encoding":{"x":{"field":"t","type":"quantitative","scale":{"domain":[4,24],"nice":false,"zero":false},"axis":null},
"y":{"field":"lat","type":"quantitative","scale":{"domain":[0,89],"nice":false,"zero":false},"axis":{"title":null,"values":[0,10,20,30,40,50,60,70,80],"labelExpr":"datum.value == 0 ? 'EQ' : datum.value + 'N'"}},
"fill":{"field":"level","type":"ordinal","scale":{"domain":[0.5,0.7,1,2,5,7,10,20,50,70],"range":["#0046ff","#0078ff","#00a0ff","#00ffff","#ffff00","#ffe000","#ffc000","#ffa000","#ff8000","#ff0000"]},"legend":null},
"order":{"value":null}}},
{"data":{"name":"latgrid"},"mark":{"type":"rule","stroke":"#8c8c8c","strokeWidth":1.5,"strokeDash":[2,10]},"encoding":{"y":{"field":"lat","type":"quantitative"}}},
{"data":{"name":"labels"},"transform":[{"filter":"datum.panel == '171 mb'"},{"calculate":"length(datum.label)","as":"len"}],
"mark":{"type":"point","filled":true,"color":"white","opacity":1,"size":441,"strokeOpacity":0},
"encoding":{"x":{"field":"t","type":"quantitative","axis":null},"y":{"field":"lat","type":"quantitative"},
"shape":{"field":"len","type":"ordinal","scale":{"domain":[1,2,3],"range":["M-0.72,-1H0.72V1H-0.72Z","M-1.24,-1H1.24V1H-1.24Z","M-1.6,-1H1.6V1H-1.6Z"]},"legend":null}}},
{"data":{"name":"labels"},"transform":[{"filter":"datum.panel == '171 mb'"}],
"mark":{"type":"text","fontSize":20,"color":"black","align":"center","baseline":"middle","dy":1},
"encoding":{"x":{"field":"t","type":"quantitative","axis":null},"y":{"field":"lat","type":"quantitative"},"text":{"field":"label"}}},
{"data":{"name":"panels"},"transform":[{"filter":"datum.panel == '171 mb'"}],
"mark":{"type":"rect","fill":"white","stroke":"black","strokeWidth":4},
"encoding":{"x":{"datum":19.88,"type":"quantitative","axis":null},"x2":{"datum":23.5},"y":{"datum":16.7,"type":"quantitative"},"y2":{"datum":3.8}}},
{"data":{"name":"panels"},"transform":[{"filter":"datum.panel == '171 mb'"}],
"mark":{"type":"text","fontSize":30,"color":"black","align":"left","baseline":"alphabetic"},
"encoding":{"x":{"datum":20.12,"type":"quantitative","axis":null},"y":{"datum":6.9,"type":"quantitative"},"text":{"field":"text"}}}
]},
{"width":871,"height":374,"layer":[
{"data":{"name":"contours"},"transform":[{"filter":"datum.panel == '280 mb'"}],
"mark":{"type":"line","clip":true,"stroke":"black","strokeWidth":1,"interpolate":"catmull-rom","strokeJoin":"round"},
"encoding":{"x":{"field":"t","type":"quantitative","scale":{"domain":[4,24],"nice":false,"zero":false},"axis":null},
"y":{"field":"lat","type":"quantitative","scale":{"domain":[0,89],"nice":false,"zero":false},"axis":{"title":null,"values":[0,10,20,30,40,50,60,70,80],"labelExpr":"datum.value == 0 ? 'EQ' : datum.value + 'N'"}},
"fill":{"field":"level","type":"ordinal","scale":{"domain":[0.5,0.7,1,2,5,7,10,20,50,70],"range":["#0046ff","#0078ff","#00a0ff","#00ffff","#ffff00","#ffe000","#ffc000","#ffa000","#ff8000","#ff0000"]},"legend":null},
"order":{"value":null}}},
{"data":{"name":"latgrid"},"mark":{"type":"rule","stroke":"#8c8c8c","strokeWidth":1.5,"strokeDash":[2,10]},"encoding":{"y":{"field":"lat","type":"quantitative"}}},
{"data":{"name":"labels"},"transform":[{"filter":"datum.panel == '280 mb'"},{"calculate":"length(datum.label)","as":"len"}],
"mark":{"type":"point","filled":true,"color":"white","opacity":1,"size":441,"strokeOpacity":0},
"encoding":{"x":{"field":"t","type":"quantitative","axis":null},"y":{"field":"lat","type":"quantitative"},
"shape":{"field":"len","type":"ordinal","scale":{"domain":[1,2,3],"range":["M-0.72,-1H0.72V1H-0.72Z","M-1.24,-1H1.24V1H-1.24Z","M-1.6,-1H1.6V1H-1.6Z"]},"legend":null}}},
{"data":{"name":"labels"},"transform":[{"filter":"datum.panel == '280 mb'"}],
"mark":{"type":"text","fontSize":20,"color":"black","align":"center","baseline":"middle","dy":1},
"encoding":{"x":{"field":"t","type":"quantitative","axis":null},"y":{"field":"lat","type":"quantitative"},"text":{"field":"label"}}},
{"data":{"name":"panels"},"transform":[{"filter":"datum.panel == '280 mb'"}],
"mark":{"type":"rect","fill":"white","stroke":"black","strokeWidth":4},
"encoding":{"x":{"datum":19.88,"type":"quantitative","axis":null},"x2":{"datum":23.5},"y":{"datum":16.7,"type":"quantitative"},"y2":{"datum":3.8}}},
{"data":{"name":"panels"},"transform":[{"filter":"datum.panel == '280 mb'"}],
"mark":{"type":"text","fontSize":30,"color":"black","align":"left","baseline":"alphabetic"},
"encoding":{"x":{"datum":20.12,"type":"quantitative","axis":null},"y":{"datum":6.9,"type":"quantitative"},"text":{"field":"text"}}}
]},
{"width":871,"height":374,"layer":[
{"data":{"name":"contours"},"transform":[{"filter":"datum.panel == '945 mb'"}],
"mark":{"type":"line","clip":true,"stroke":"black","strokeWidth":1,"interpolate":"catmull-rom","strokeJoin":"round"},
"encoding":{"x":{"field":"t","type":"quantitative","scale":{"domain":[4,24],"nice":false,"zero":false},"axis":{"title":null,"values":[6,9,12,15,18,21,24],"tickSize":5,"labelPadding":4,"labelLineHeight":21,"labelExpr":"datum.value == 6 ? ['JUL','1783'] : datum.value == 9 ? 'OCT' : datum.value == 12 ? ['JAN','1784'] : datum.value == 15 ? 'APR' : datum.value == 18 ? 'JUL' : datum.value == 21 ? 'OCT' : ['JAN','1785']"}},
"y":{"field":"lat","type":"quantitative","scale":{"domain":[0,89],"nice":false,"zero":false},"axis":{"title":null,"values":[0,10,20,30,40,50,60,70,80],"labelExpr":"datum.value == 0 ? 'EQ' : datum.value + 'N'"}},
"fill":{"field":"level","type":"ordinal","scale":{"domain":[0.5,0.7,1,2,5,7,10,20,50,70],"range":["#0046ff","#0078ff","#00a0ff","#00ffff","#ffff00","#ffe000","#ffc000","#ffa000","#ff8000","#ff0000"]},"legend":null},
"order":{"value":null}}},
{"data":{"name":"latgrid"},"mark":{"type":"rule","stroke":"#8c8c8c","strokeWidth":1.5,"strokeDash":[2,10]},"encoding":{"y":{"field":"lat","type":"quantitative"}}},
{"data":{"name":"tgrid"},"mark":{"type":"rule","stroke":"#8c8c8c","strokeWidth":1.5,"strokeDash":[2,10]},"encoding":{"x":{"field":"t","type":"quantitative"}}},
{"data":{"name":"labels"},"transform":[{"filter":"datum.panel == '945 mb'"},{"calculate":"length(datum.label)","as":"len"}],
"mark":{"type":"point","filled":true,"color":"white","opacity":1,"size":441,"strokeOpacity":0},
"encoding":{"x":{"field":"t","type":"quantitative"},"y":{"field":"lat","type":"quantitative"},
"shape":{"field":"len","type":"ordinal","scale":{"domain":[1,2,3],"range":["M-0.72,-1H0.72V1H-0.72Z","M-1.24,-1H1.24V1H-1.24Z","M-1.6,-1H1.6V1H-1.6Z"]},"legend":null}}},
{"data":{"name":"labels"},"transform":[{"filter":"datum.panel == '945 mb'"}],
"mark":{"type":"text","fontSize":20,"color":"black","align":"center","baseline":"middle","dy":1},
"encoding":{"x":{"field":"t","type":"quantitative"},"y":{"field":"lat","type":"quantitative"},"text":{"field":"label"}}},
{"data":{"name":"panels"},"transform":[{"filter":"datum.panel == '945 mb'"}],
"mark":{"type":"rect","fill":"white","stroke":"black","strokeWidth":4},
"encoding":{"x":{"datum":19.88,"type":"quantitative"},"x2":{"datum":23.5},"y":{"datum":16.7,"type":"quantitative"},"y2":{"datum":3.8}}},
{"data":{"name":"panels"},"transform":[{"filter":"datum.panel == '945 mb'"}],
"mark":{"type":"text","fontSize":30,"color":"black","align":"left","baseline":"alphabetic"},
"encoding":{"x":{"datum":20.12,"type":"quantitative"},"y":{"datum":6.9,"type":"quantitative"},"text":{"field":"text"}}}
]},
{"width":871,"height":73,"view":{"stroke":null},"data":{"name":"colorbar"},"layer":[
{"transform":[{"filter":"datum.kind == 'bin'"}],
"mark":{"type":"rect","stroke":"black","strokeWidth":1},
"encoding":{"x":{"field":"bin","type":"nominal","scale":{"domain":["below 0.5","0.5-0.7","0.7-1","1-2","2-5","5-7","7-10","10-20","20-50","50-70","above 70"],"range":[-87,823],"paddingInner":0,"paddingOuter":0},"axis":null},
"y":{"datum":1,"type":"quantitative","scale":{"domain":[0,2.607],"nice":false,"zero":false},"axis":null},"y2":{"datum":0},
"fill":{"field":"bin","type":"nominal","scale":{"domain":["0.5-0.7","0.7-1","1-2","2-5","5-7","7-10","10-20","20-50","50-70"],"range":["#0046ff","#0078ff","#00a0ff","#00ffff","#ffff00","#ffe000","#ffc000","#ffa000","#ff8000"]},"legend":null}}},
{"transform":[{"filter":"datum.kind == 'lt'"}],
"mark":{"type":"point","filled":true,"color":"white","stroke":"black","strokeWidth":1,"opacity":1,"size":6844,"shape":"M1,-0.3385L-1,0L1,0.3385Z"},
"encoding":{"x":{"field":"bin","type":"nominal","axis":null},"y":{"datum":0.5,"type":"quantitative","axis":null}}},
{"transform":[{"filter":"datum.kind == 'gt'"}],
"mark":{"type":"point","filled":true,"color":"#ff0000","stroke":"black","strokeWidth":1,"opacity":1,"size":6844,"shape":"M-1,-0.3385L1,0L-1,0.3385Z"},
"encoding":{"x":{"field":"bin","type":"nominal","axis":null},"y":{"datum":0.5,"type":"quantitative","axis":null}}},
{"transform":[{"filter":"isValid(datum.lo)"}],
"mark":{"type":"text","fontSize":26,"color":"black","align":"center","baseline":"top","dy":4},
"encoding":{"x":{"field":"bin","type":"nominal","bandPosition":0,"axis":null},"y":{"datum":0,"type":"quantitative","axis":null},"text":{"field":"lo"}}}
]}
]
}
